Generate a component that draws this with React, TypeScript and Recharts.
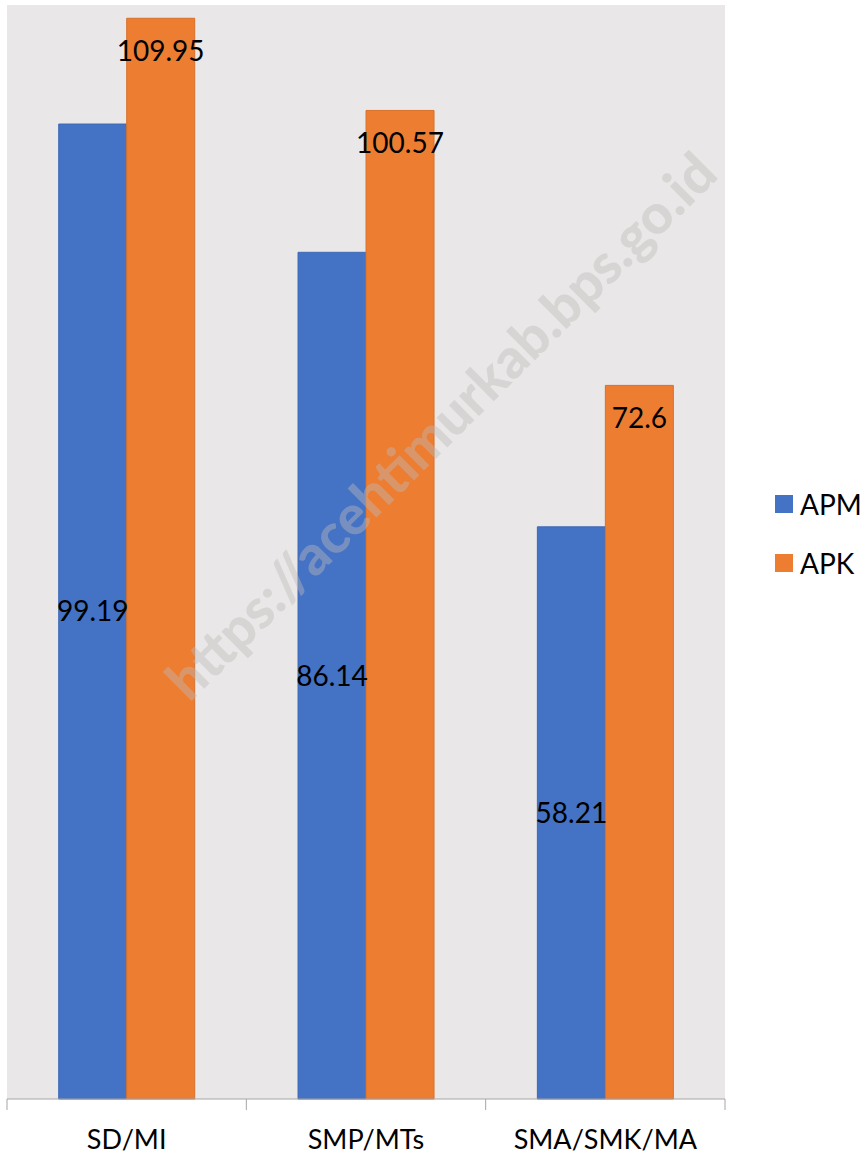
import { BarChart, Bar, XAxis, YAxis, CartesianGrid, Legend, LabelList } from "recharts";

const categories = ["SD/MI", "SMP/MTs", "SMA/SMK/MA"];
const apm = [99.19, 86.14, 58.21];
const apk = [109.95, 100.57, 72.6];

const data = categories.map((name, i) => ({ name, APM: apm[i], APK: apk[i] }));

const W = 865;
const H = 1158;
const LEFT = 7;
const RIGHT = 725;
const BAND = (RIGHT - LEFT) / categories.length;
const FONT = "Lato, 'Open Sans', sans-serif";

const AxisTick = (props: any) => {
  const { x, y, payload, index } = props;
  const left = x - BAND / 2;
  return (
    <g>
      <line x1={left} y1={y - 8} x2={left} y2={y + 3} stroke="#a6a6a6" />
      {index === categories.length - 1 && (
        <line x1={left + BAND} y1={y - 8} x2={left + BAND} y2={y + 3} stroke="#a6a6a6" />
      )}
      <text x={x} y={y + 35} textAnchor="middle" dominantBaseline="middle" fontSize={27} fill="#000" fontFamily={FONT}>
        {payload.value}
      </text>
    </g>
  );
};

const LegendBox = () => (
  <div style={{ fontFamily: FONT, fontSize: 28, color: "#000" }}>
    {[
      { label: "APM", color: "#4472c4" },
      { label: "APK", color: "#ed7d31" },
    ].map((it) => (
      <div key={it.label} style={{ display: "flex", alignItems: "center", height: 59 }}>
        <span style={{ width: 18, height: 18, background: it.color, marginRight: 7, display: "inline-block" }} />
        {it.label}
      </div>
    ))}
  </div>
);

export default function App() {
  return (
    <div style={{ position: "absolute", left: 0, top: 0, width: W, height: H, background: "#fff", overflow: "hidden" }}>
      <BarChart
        width={W}
        height={H}
        data={data}
        margin={{ top: 5, left: LEFT, right: W - RIGHT, bottom: 0 }}
        barCategoryGap="21.6%"
        barGap={0}
      >
        <CartesianGrid horizontal={false} vertical={false} fill="#e9e7e7" />
        <XAxis
          dataKey="name"
          height={59}
          axisLine={{ stroke: "#a6a6a6" }}
          tickLine={false}
          tick={<AxisTick />}
          interval={0}
        />
        <YAxis hide domain={[0, 111.3]} />
        <Legend
          layout="horizontal"
          align="center"
          verticalAlign="middle"
          content={<LegendBox />}
          wrapperStyle={{ left: 775, top: 474, width: 90 }}
        />
        <Bar dataKey="APM" fill="#4472c4" stroke="#3f69b5" isAnimationActive={false}>
          <LabelList dataKey="APM" position="center" fontSize={28} fill="#000" fontFamily={FONT} />
        </Bar>
        <Bar dataKey="APK" fill="#ed7d31" stroke="#d9702a" isAnimationActive={false}>
          <LabelList dataKey="APK" position="insideTop" offset={23} fontSize={28} fill="#000" fontFamily={FONT} />
        </Bar>
      </BarChart>
      <div
        style={{
          position: "absolute",
          left: 440,
          top: 425,
          transform: "translate(-50%, -50%) rotate(-44.8deg)",
          fontFamily: FONT,
          fontWeight: 900,
          fontSize: 55,
          color: "rgba(190,185,185,0.42)",
          whiteSpace: "nowrap",
          pointerEvents: "none",
        }}
      >
        https://acehtimurkab.bps.go.id
      </div>
    </div>
  );
}
